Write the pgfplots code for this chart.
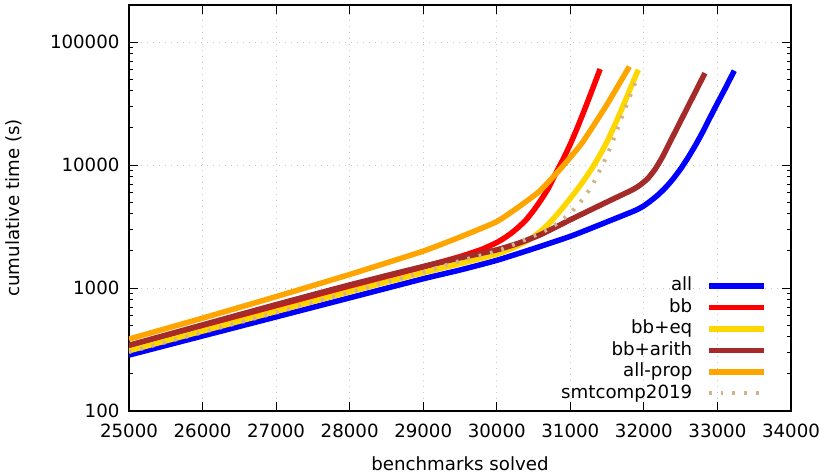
\documentclass[border=0pt]{standalone}
\usepackage{fontspec}
\setmainfont{DejaVu Sans}
\usepackage{pgfplots}
\pgfplotsset{compat=1.18}
\newcommand\FS{\fontsize{18.2bp}{21bp}\selectfont}
\definecolor{cAll}{RGB}{0,0,255}
\definecolor{cBB}{RGB}{255,0,0}
\definecolor{cEq}{RGB}{255,215,0}
\definecolor{cArith}{RGB}{165,42,42}
\definecolor{cProp}{RGB}{255,165,0}
\definecolor{cSmt}{RGB}{210,180,140}
\begin{document}
\begin{tikzpicture}[font=\FS]
\begin{axis}[
  scale only axis, width=662bp, height=406bp,
  xmin=25000, xmax=34000, ymin=100, ymax=200000, ymode=log,
  scaled x ticks=false,
  xtick={25000,26000,27000,28000,29000,30000,31000,32000,33000,34000},
  xticklabels={25000,26000,27000,28000,29000,30000,31000,32000,33000,34000},
  ytick={100,1000,10000,100000},
  yticklabels={100,1000,10000,100000},
  minor ytick={200,300,400,500,600,700,800,900,2000,3000,4000,5000,6000,7000,8000,9000,20000,30000,40000,50000,60000,70000,80000,90000,200000},
  /pgf/number format/assume math mode=true,
  tick align=inside,
  major tick length=9bp, minor tick length=4.5bp,
  every tick/.style={black, line width=1bp},
  axis line style={black, line width=1.3bp},
  grid=major,
  major grid style={gray!45, line width=0.9bp, dash pattern=on 1bp off 5bp},
  tick label style={font=\FS},
  xticklabel style={yshift=-9.7bp},
  yticklabel style={xshift=-6bp},
  every axis x label/.style={at={(axis description cs:0.5,-0.1293)}, anchor=center, font=\FS},
  every axis y label/.style={at={(axis description cs:-0.1737,0.5)}, rotate=90, anchor=center, font=\FS},
  xlabel={benchmarks solved},
  ylabel={cumulative time (s)},
  legend cell align=right,
  legend plot pos=right,
  legend image code/.code={\draw[#1] (0bp,0bp) -- (55bp,0bp);},
  legend style={at={(rel axis cs:0.9637,0.3308)}, anchor=north east, draw=none, fill=none,
    inner sep=0pt, row sep=3.5bp, column sep=14bp, font=\FS,
    nodes={inner sep=0pt, text height=14bp, text depth=4bp}},
]
\addplot[cAll, line width=5.5bp, smooth, tension=0.3] coordinates {
(25000,285.1) (26000,407.4) (27000,582.1) (28000,831.8) (29000,1189) (29500,1400)
(30000,1679) (30500,2089) (31000,2630) (31300,3090) (31600,3648) (31800,4074)
(31900,4315) (32000,4656) (32100,5152) (32200,5768) (32300,6607) (32400,7745)
(32500,9311) (32600,11480) (32700,14450) (32800,18580) (32900,24380) (33000,31840)
(33100,41300) (33229,58480)};
\addlegendentry{all}
\addplot[cBB, line width=5.5bp, smooth, tension=0.3] coordinates {
(25000,320) (26000,462.4) (27000,676.1) (28000,988.6) (28500,1189) (29000,1479)
(29500,1799) (29800,2065) (30000,2344) (30100,2541) (30200,2799) (30300,3141)
(30400,3589) (30500,4266) (30600,5188) (30700,6457) (30800,8511) (30900,11090)
(31000,14790) (31100,20420) (31200,28840) (31300,41210) (31405,60260)};
\addlegendentry{bb}
\addplot[cEq, line width=5.5bp, smooth, tension=0.3] coordinates {
(25000,309) (26000,446.7) (27000,645.7) (28000,933.3) (29000,1334) (29545,1603)
(30000,1884) (30200,2089) (30400,2393) (30500,2618) (30600,2911) (30700,3304)
(30800,3837) (30900,4519) (31000,5358) (31100,6397) (31200,7745) (31300,9528)
(31400,11990) (31500,15520) (31600,20840) (31700,28580) (31800,39720) (31900,55210)
(31925,59570)};
\addlegendentry{bb+eq}
\addplot[cArith, line width=5.5bp, smooth, tension=0.3] coordinates {
(25000,342) (26000,501.2) (27000,732.8) (28000,1059) (29000,1496) (29500,1758)
(30000,2042) (30300,2317) (30600,2723) (31000,3589) (31500,5012) (31850,6310)
(31950,6887) (32050,7727) (32150,9183) (32250,11560) (32350,15170) (32450,19910)
(32550,26120) (32650,34280) (32750,44980) (32830,55850)};
\addlegendentry{bb+arith}
\addplot[cProp, line width=5.5bp, smooth, tension=0.3] coordinates {
(25000,384.6) (26000,568.9) (27000,851.1) (28000,1288) (29000,1995) (29545,2661)
(30000,3467) (30300,4571) (30587,6166) (30882,9550) (31160,15140) (31494,30760)
(31802,63100)};
\addlegendentry{all-prop}
\addplot[cSmt, line width=4bp, dash pattern=on 2.7bp off 9bp, smooth, tension=0.3] coordinates {
(25000,302) (26000,436.5) (27000,631) (28000,922.6) (29000,1349) (29500,1660)
(30000,1995) (30300,2344) (30632,2871) (30800,3281) (30900,3622) (31000,4074)
(31100,4699) (31200,5572) (31300,6902) (31400,9036) (31500,12020) (31600,16920)
(31700,24380) (31800,34670) (31911,51400)};
\addlegendentry{smtcomp2019}
\end{axis}
\pgfresetboundingbox
\path[use as bounding box] ([shift={(-129bp,-65bp)}]current axis.south west) rectangle ([shift={(38bp,5bp)}]current axis.north east);
\end{tikzpicture}
\end{document}
